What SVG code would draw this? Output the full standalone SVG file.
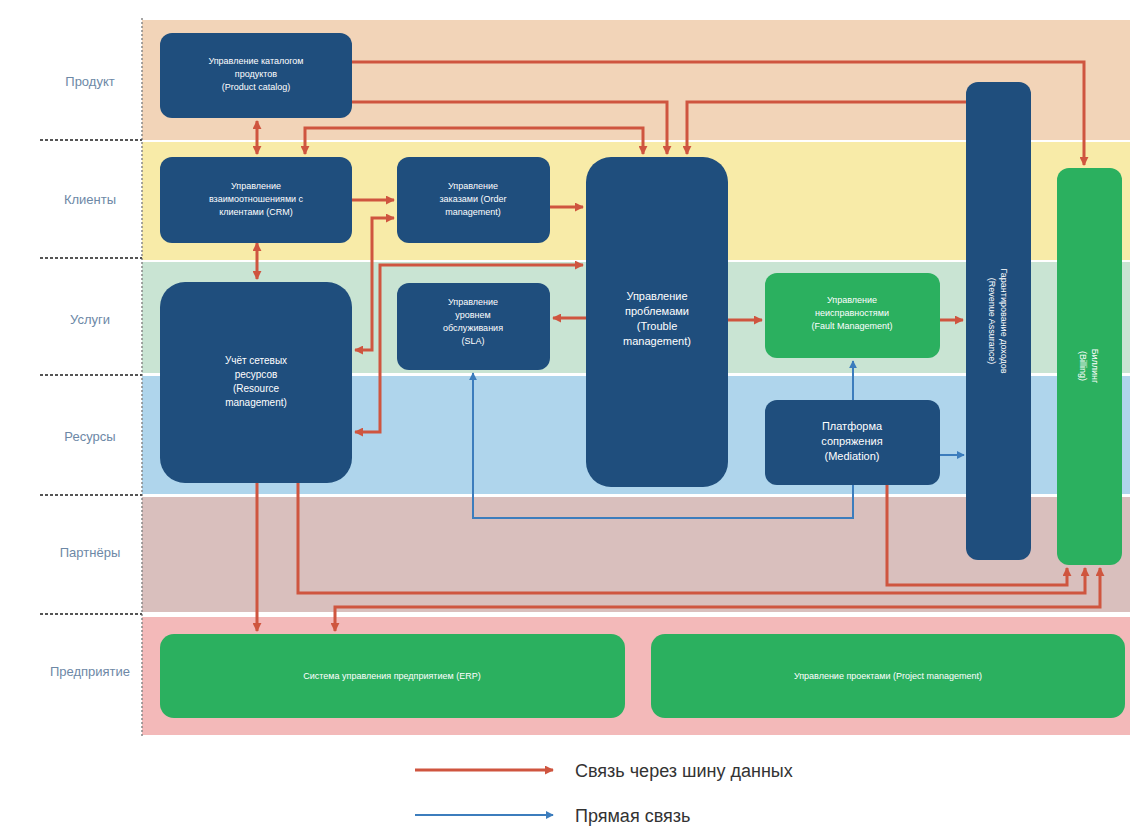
<svg xmlns="http://www.w3.org/2000/svg" width="1130" height="826" viewBox="0 0 1130 826">
<defs>
<style>
.lbl{font-family:"Liberation Sans","DejaVu Sans",sans-serif;font-size:13px;fill:#6d88a6;text-anchor:middle}
.nb{fill:#1f4e7d}
.ng{fill:#2bb05f}
.t{font-family:"Liberation Sans","DejaVu Sans",sans-serif;font-size:9px;fill:#ffffff;text-anchor:middle}
.tl{font-family:"Liberation Sans","DejaVu Sans",sans-serif;font-size:11px;fill:#ffffff;text-anchor:middle}
.r{fill:none;stroke:#cf553f;stroke-width:3}
.b{fill:none;stroke:#3c7dbd;stroke-width:2}
.sep{stroke:#555;stroke-width:2;stroke-dasharray:3 2}
.leg{font-family:"Liberation Sans","DejaVu Sans",sans-serif;font-size:18px;fill:#333}
</style>
<marker id="ar" viewBox="0 0 10 10" refX="9" refY="5" markerWidth="3" markerHeight="3" orient="auto-start-reverse"><path d="M0,0L10,5L0,10z" fill="#cf553f"/></marker>
<marker id="ab" viewBox="0 0 10 10" refX="9" refY="5" markerWidth="4" markerHeight="4" orient="auto-start-reverse"><path d="M0,0L10,5L0,10z" fill="#3c7dbd"/></marker>
</defs>
<rect width="1130" height="826" fill="#ffffff"/>
<g id="bands">
<rect x="142" y="20" width="988" height="120" fill="#f2d4b8"/>
<rect x="142" y="142" width="988" height="118" fill="#f8eba8"/>
<rect x="142" y="262" width="988" height="111" fill="#c9e4d3"/>
<rect x="142" y="376" width="988" height="118" fill="#afd5ec"/>
<rect x="142" y="497" width="988" height="115" fill="#d9bfbd"/>
<rect x="142" y="617" width="988" height="118" fill="#f3b9b9"/>
<line x1="142" y1="18" x2="142" y2="738" stroke="#888" stroke-width="1.5" stroke-dasharray="2 2"/>
<line class="sep" x1="40" y1="140" x2="142" y2="140"/>
<line class="sep" x1="40" y1="258" x2="142" y2="258"/>
<line class="sep" x1="40" y1="375" x2="142" y2="375"/>
<line class="sep" x1="40" y1="495" x2="142" y2="495"/>
<line class="sep" x1="40" y1="614" x2="142" y2="614"/>
<text class="lbl" x="90" y="86">Продукт</text>
<text class="lbl" x="90" y="204">Клиенты</text>
<text class="lbl" x="90" y="324">Услуги</text>
<text class="lbl" x="90" y="441">Ресурсы</text>
<text class="lbl" x="90" y="557">Партнёры</text>
<text class="lbl" x="90" y="676">Предприятие</text>
</g>
<g id="connectors">
<path class="r" d="M352,62H1084V165" marker-end="url(#ar)"/>
<path class="r" d="M352,102H667V154" marker-end="url(#ar)"/>
<path class="r" d="M967,102H687V154" marker-end="url(#ar)"/>
<path class="r" d="M305,154V128H643V154" marker-start="url(#ar)" marker-end="url(#ar)"/>
<path class="r" d="M257,121V154" marker-start="url(#ar)" marker-end="url(#ar)"/>
<path class="r" d="M257,243V279" marker-start="url(#ar)" marker-end="url(#ar)"/>
<path class="r" d="M352,200H394" marker-end="url(#ar)"/>
<path class="r" d="M355,350H372V218H394" marker-start="url(#ar)" marker-end="url(#ar)"/>
<path class="r" d="M355,432H380V265H583" marker-start="url(#ar)" marker-end="url(#ar)"/>
<path class="r" d="M550,207H583" marker-end="url(#ar)"/>
<path class="r" d="M553,318H586" marker-start="url(#ar)"/>
<path class="r" d="M728,320H762" marker-end="url(#ar)"/>
<path class="r" d="M940,320H963" marker-end="url(#ar)"/>
<path class="r" d="M257,483V631" marker-end="url(#ar)"/>
<path class="r" d="M298,483V593H1085V568" marker-end="url(#ar)"/>
<path class="r" d="M887,485V585H1067V568" marker-end="url(#ar)"/>
<path class="r" d="M335,631V607H1100V568" marker-start="url(#ar)" marker-end="url(#ar)"/>
<path class="b" d="M853,400V361" marker-end="url(#ab)"/>
<path class="b" d="M853,485V518H473V373" marker-end="url(#ab)"/>
<path class="b" d="M940,455H964" marker-end="url(#ab)"/>
</g>
<g id="product-catalog"><rect class="nb" x="160" y="33" width="192" height="85" rx="12"/>
<text class="t" x="256" y="64">Управление каталогом</text><text class="t" x="256" y="77">продуктов</text><text class="t" x="256" y="90">(Product catalog)</text></g>
<g id="crm"><rect class="nb" x="160" y="157" width="192" height="86" rx="12"/>
<text class="t" x="256" y="189">Управление</text><text class="t" x="256" y="202">взаимоотношениями с</text><text class="t" x="256" y="215">клиентами (CRM)</text></g>
<g id="order"><rect class="nb" x="397" y="157" width="153" height="86" rx="12"/>
<text class="t" x="473" y="189">Управление</text><text class="t" x="473" y="202">заказами (Order</text><text class="t" x="473" y="215">management)</text></g>
<g id="resource"><rect class="nb" x="160" y="282" width="192" height="201" rx="25"/>
<text class="t" x="256" y="364" style="font-size:10px">Учёт сетевых</text><text class="t" x="256" y="378" style="font-size:10px">ресурсов</text><text class="t" x="256" y="392" style="font-size:10px">(Resource</text><text class="t" x="256" y="406" style="font-size:10px">management)</text></g>
<g id="sla"><rect class="nb" x="397" y="283" width="153" height="87" rx="12"/>
<text class="t" x="473" y="305">Управление</text><text class="t" x="473" y="318">уровнем</text><text class="t" x="473" y="331">обслуживания</text><text class="t" x="473" y="344">(SLA)</text></g>
<g id="trouble"><rect class="nb" x="586" y="157" width="142" height="330" rx="25"/>
<text class="tl" x="657" y="300">Управление</text><text class="tl" x="657" y="315">проблемами</text><text class="tl" x="657" y="330">(Trouble</text><text class="tl" x="657" y="345">management)</text></g>
<g id="fault"><rect class="ng" x="765" y="273" width="175" height="85" rx="12"/>
<text class="t" x="852" y="303">Управление</text><text class="t" x="852" y="316">неисправностями</text><text class="t" x="852" y="329">(Fault Management)</text></g>
<g id="mediation"><rect class="nb" x="765" y="400" width="175" height="85" rx="12"/>
<text class="tl" x="852" y="430">Платформа</text><text class="tl" x="852" y="445">сопряжения</text><text class="tl" x="852" y="460">(Mediation)</text></g>
<g id="revenue"><rect class="nb" x="966" y="82" width="65" height="478" rx="12"/>
<g transform="translate(998,321) rotate(90)"><text class="t" x="0" y="-3">Гарантирование доходов</text><text class="t" x="0" y="9">(Revenue Assurance)</text></g></g>
<g id="billing"><rect class="ng" x="1057" y="168" width="65" height="397" rx="12"/>
<g transform="translate(1089,366) rotate(90)"><text class="t" x="0" y="-3">Биллинг</text><text class="t" x="0" y="9">(Billing)</text></g></g>
<g id="erp"><rect class="ng" x="160" y="634" width="465" height="84" rx="14"/>
<text class="t" x="392" y="679">Система управления предприятием (ERP)</text></g>
<g id="project"><rect class="ng" x="651" y="634" width="474" height="84" rx="14"/>
<text class="t" x="888" y="679">Управление проектами (Project management)</text></g>
<g id="legend">
<path class="r" d="M415,770H553" marker-end="url(#ar)"/>
<text class="leg" x="575" y="777">Связь через шину данных</text>
<path class="b" d="M415,815H553" marker-end="url(#ab)"/>
<text class="leg" x="575" y="822">Прямая связь</text>
</g>
</svg>
